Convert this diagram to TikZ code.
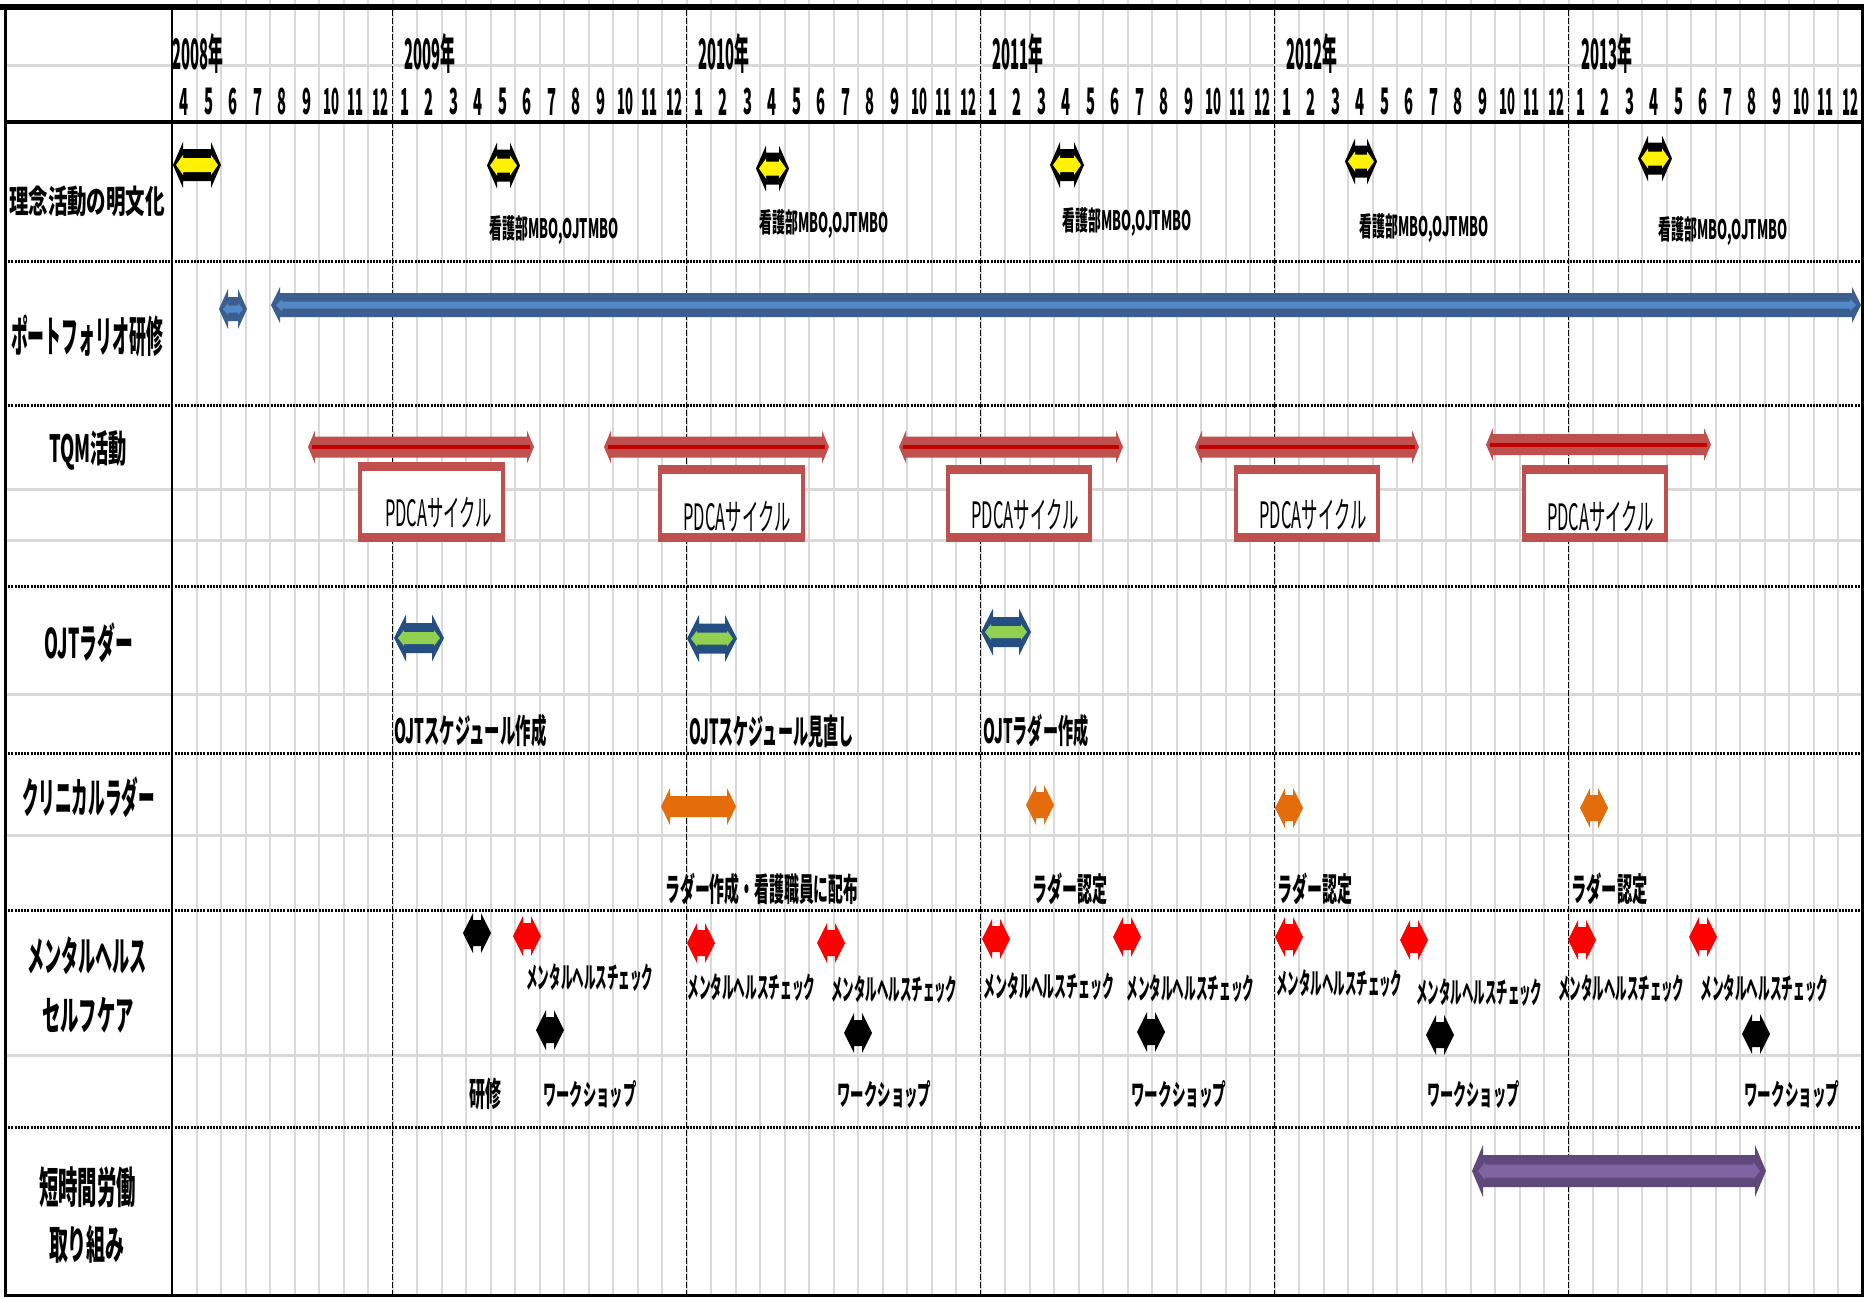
\documentclass[tikz,border=0pt]{standalone}
\usepackage{fontspec}
\usepackage{graphicx}
\newfontfamily\jp{Noto Sans CJK JP}
\newlength\pxu \setlength\pxu{0.5pt}
% text scaled to an ink box of #1 x #2 px
\newcommand\fb[3]{\resizebox*{#1\pxu}{#2\pxu}{#3}}
\definecolor{gridgray}{HTML}{D9D9D9}
\definecolor{bluedark}{HTML}{3A5F8F}
\definecolor{bluelight}{HTML}{5487C6}
\definecolor{tqmred}{HTML}{C0504D}
\definecolor{tqmline}{HTML}{C00000}
\definecolor{navy}{HTML}{254F82}
\definecolor{ojtgreen}{HTML}{92D050}
\definecolor{orng}{HTML}{E46C0A}
\definecolor{purpdark}{HTML}{5F497A}
\definecolor{purplight}{HTML}{8064A2}
% double arrow: #1 colour, #2 left, #3 right, #4 centre y, #5 head half height, #6 shaft half height, #7 head length
\newcommand\dbl[7]{\fill[#1] (#2,#4) -- ({#2+#7},{#4-#5}) -- ({#2+#7},{#4-#6}) -- ({#3-#7},{#4-#6}) -- ({#3-#7},{#4-#5}) -- (#3,#4) -- ({#3-#7},{#4+#5}) -- ({#3-#7},{#4+#6}) -- ({#2+#7},{#4+#6}) -- ({#2+#7},{#4+#5}) -- cycle;}
\newcommand\sdbl[3]{\dbl{#1}{#2-14}{#2+14}{#3}{20}{13}{10}}
\newcommand\yarr[3]{\dbl{black}{#1}{#2}{#3}{23}{16}{10}\dbl{yellow}{#1+3}{#2-3}{#3}{10}{7}{7}}
\newcommand\tqm[3]{\dbl{tqmred}{#1}{#2}{#3}{16.5}{10.5}{7}\draw[tqmline,line width=2pt] ({#1+4},#3) -- ({#2-4},#3);}
\newcommand\ojt[3]{\dbl{navy}{#1}{#2}{#3}{23.5}{15}{12}\dbl{ojtgreen}{#1+4}{#2-4}{#3}{8}{6}{6}}
\newcommand\pbox[4]{\fill[tqmred] (#1,#3) rectangle (#2,#4); \fill[white] ({#1+4},{#3+9}) rectangle ({#2-4},{#4-9});}
\begin{document}
\begin{tikzpicture}[x=0.5pt,y=-0.5pt,
  gridv/.style={gridgray,line width=1pt},
  gridh/.style={gridgray,line width=1.5pt},
  yrline/.style={black,line width=0.7pt,dash pattern=on 3pt off 1pt},
  dotsep/.style={black,line width=1.5pt,dash pattern=on 1pt off 0.6pt},
  txt/.style={inner sep=0pt,font={\jp\bfseries\fontsize{20}{20}\selectfont}},
  txtw/.style={txt,anchor=west},
  pdtxt/.style={inner sep=0pt,font={\jp\fontsize{20}{20}\selectfont}}]
\useasboundingbox (0,0) rectangle (1864,1297);
\fill[white] (0,0) rectangle (1864,1297);
% grid
\foreach \j in {1,...,68} \draw[gridv] ({172+24.5*\j},0) -- ({172+24.5*\j},1297);
\foreach \yy in {65,489,540,694,835,1055} \draw[gridh] (5,\yy) -- (1862,\yy);
\foreach \j in {9,21,33,45,57} \draw[yrline] ({172+24.5*\j},10) -- ({172+24.5*\j},1297);
\foreach \yy in {261.5,405,586,753,910,1127} \draw[dotsep] (5,\yy) -- (1862,\yy);
% borders
\draw[line width=3pt] (0,7) -- (1864,7);
\draw[line width=2pt] (5,122) -- (1862,122);
\draw[line width=1.5pt] (5,7) -- (5,1295.5) -- (1862,1295.5) -- (1862,7);
\draw[line width=1.25pt] (172,7) -- (172,1295.5);
% header
\node[txtw] (y2008) at (172,53) {\fb{51}{40}{2008年}};
\node[txtw] (y2009) at (404,53) {\fb{51}{40}{2009年}};
\node[txtw] (y2010) at (698,53) {\fb{51}{40}{2010年}};
\node[txtw] (y2011) at (992,53) {\fb{51}{40}{2011年}};
\node[txtw] (y2012) at (1286,53) {\fb{51}{40}{2012年}};
\node[txtw] (y2013) at (1581,53) {\fb{51}{40}{2013年}};
\foreach \k in {0,...,68}{
  \pgfmathtruncatemacro\m{mod(\k+3,12)+1}
  \ifnum\m<10 \def\ww{9}\else\def\ww{16}\fi
  \node[txt] (mon\k) at ({172+24.5*(\k+0.5)},101.5) {\fb{\ww}{27}{\m}};
}
% row labels
\node[txt] (rl1) at (87,201) {\fb{156}{31}{理念活動の明文化}};
\node[txt] (rl2) at (87,336) {\fb{152}{42}{ポートフォリオ研修}};
\node[txt] (rl3) at (88,450) {\fb{78}{40}{TQM活動}};
\node[txt] (rl4) at (89,643) {\fb{88}{40}{OJTラダー}};
\node[txt] (rl5) at (88.5,797) {\fb{133}{41}{クリニカルラダー}};
\node[txt] (rl6) at (87,956) {\fb{120}{38}{メンタルヘルス}};
\node[txt] (rl7) at (88,1015) {\fb{92}{36}{セルフケア}};
\node[txt] (rl8) at (87.5,1187) {\fb{97}{41}{短時間労働}};
\node[txt] (rl9) at (87,1244) {\fb{76}{38}{取り組み}};
% row 1
\yarr{173}{221}{165}
\yarr{487}{520}{165.5}
\yarr{756}{789}{168.5}
\yarr{1050}{1084}{165}
\yarr{1345}{1377}{161.5}
\yarr{1638}{1672}{158.5}
\node[txtw] (kb1) at (489,230.5) {\fb{129}{29}{看護部MBO,OJTMBO}};
\node[txtw] (kb2) at (759,224) {\fb{129}{29}{看護部MBO,OJTMBO}};
\node[txtw] (kb3) at (1062,222.5) {\fb{129}{29}{看護部MBO,OJTMBO}};
\node[txtw] (kb4) at (1359,228) {\fb{129}{29}{看護部MBO,OJTMBO}};
\node[txtw] (kb5) at (1658,231.5) {\fb{129}{29}{看護部MBO,OJTMBO}};
% row 2
\dbl{bluedark}{219}{247}{309}{20}{12}{9}
\dbl{bluelight}{223}{243}{309}{6}{3.5}{5}
\dbl{bluedark}{271}{1861}{305}{18}{12}{9}
\dbl{bluelight}{276}{1856}{305}{6}{3.5}{6}
% row 3
\tqm{308}{534}{447}
\tqm{604}{829}{447}
\tqm{899}{1123}{447}
\tqm{1195}{1419}{447}
\tqm{1486}{1711}{444.5}
\pbox{358}{505}{462}{542}
\pbox{658}{805}{465}{542}
\pbox{946}{1092}{465}{542}
\pbox{1234}{1380}{465}{542}
\pbox{1522}{1668}{465}{542}
\node[pdtxt] (pd1) at (438.5,513) {\fb{107}{31}{PDCAサイクル}};
\node[pdtxt] (pd2) at (737,516.5) {\fb{107}{31}{PDCAサイクル}};
\node[pdtxt] (pd3) at (1025,515) {\fb{107}{31}{PDCAサイクル}};
\node[pdtxt] (pd4) at (1313,515) {\fb{107}{31}{PDCAサイクル}};
\node[pdtxt] (pd5) at (1600.5,517) {\fb{107}{31}{PDCAサイクル}};
% row 4
\ojt{394}{444}{638}
\ojt{687}{737}{638.5}
\ojt{981}{1031}{632}
\node[txtw] (oj1) at (394,731) {\fb{152}{33}{OJTスケジュール作成}};
\node[txtw] (oj2) at (689,731) {\fb{164}{33}{OJTスケジュール見直し}};
\node[txtw] (oj3) at (983,731) {\fb{105}{33}{OJTラダー作成}};
% row 5
\dbl{orng}{661}{736}{806.5}{18.5}{10.5}{9}
\sdbl{orng}{1040}{805}
\sdbl{orng}{1289}{808}
\sdbl{orng}{1594}{808}
\node[txtw] (cl1) at (665,889) {\fb{193}{32}{ラダー作成・看護職員に配布}};
\node[txtw] (cl2) at (1032,889) {\fb{75}{32}{ラダー認定}};
\node[txtw] (cl3) at (1277,889) {\fb{75}{32}{ラダー認定}};
\node[txtw] (cl4) at (1571,889) {\fb{76}{32}{ラダー認定}};
% row 6
\sdbl{black}{477}{933}
\sdbl{black}{550}{1030}
\sdbl{black}{858}{1033}
\sdbl{black}{1151}{1032}
\sdbl{black}{1440}{1035}
\sdbl{black}{1756}{1034}
\sdbl{red}{527}{936}
\sdbl{red}{701}{943}
\sdbl{red}{831}{943}
\sdbl{red}{996}{939}
\sdbl{red}{1127}{937}
\sdbl{red}{1289}{937}
\sdbl{red}{1414}{940}
\sdbl{red}{1582}{940}
\sdbl{red}{1703}{937}
\node[txtw] (mh1) at (526,978) {\fb{127}{28}{メンタルヘルスチェック}};
\node[txtw] (mh2) at (687,988) {\fb{128}{28}{メンタルヘルスチェック}};
\node[txtw] (mh3) at (831,990) {\fb{126}{28}{メンタルヘルスチェック}};
\node[txtw] (mh4) at (983,987) {\fb{131}{28}{メンタルヘルスチェック}};
\node[txtw] (mh5) at (1126,989) {\fb{128}{28}{メンタルヘルスチェック}};
\node[txtw] (mh6) at (1276,984) {\fb{126}{28}{メンタルヘルスチェック}};
\node[txtw] (mh7) at (1416,993) {\fb{126}{28}{メンタルヘルスチェック}};
\node[txtw] (mh8) at (1558,989) {\fb{126}{28}{メンタルヘルスチェック}};
\node[txtw] (mh9) at (1700,989) {\fb{128}{28}{メンタルヘルスチェック}};
\node[txtw] (ks1) at (469,1094) {\fb{32}{32}{研修}};
\node[txtw] (ws1) at (543,1094) {\fb{93}{28}{ワークショップ}};
\node[txtw] (ws2) at (837,1094) {\fb{94}{28}{ワークショップ}};
\node[txtw] (ws3) at (1131,1094) {\fb{95}{28}{ワークショップ}};
\node[txtw] (ws4) at (1427,1094) {\fb{92}{28}{ワークショップ}};
\node[txtw] (ws5) at (1744,1094) {\fb{95}{28}{ワークショップ}};
% row 7
\dbl{purpdark}{1472}{1766}{1171}{26}{16}{11}
\dbl{purplight}{1478}{1760}{1171}{9}{6.5}{7}
\end{tikzpicture}
\end{document}
